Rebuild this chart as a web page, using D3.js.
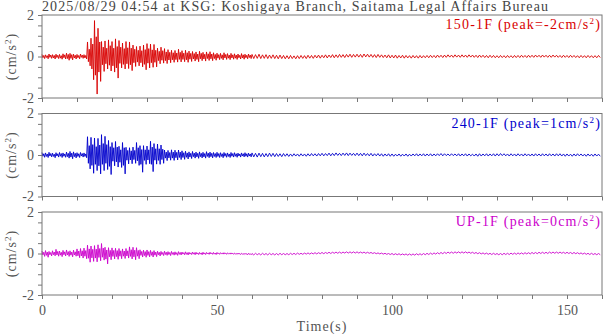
<!DOCTYPE html>
<html>
<head>
<meta charset="utf-8">
<script src="https://cdn.jsdelivr.net/npm/d3@7"></script>
<style>
  body { margin: 0; background: #fff; }
  svg { display: block; }
</style>
</head>
<body>
<svg id="chart" width="605" height="334"></svg>
<script>
// acceleration traces, per 1 s bin: max and min (x100, cm/s^2)
const title = '2025/08/29 04:54 at KSG: Koshigaya Branch, Saitama Legal Affairs Bureau';
const channels = ['150-1F', '240-1F', 'UP-1F'];
const peaks = ['-2', '1', '0'];
const colors = ['#d80000', '#0000cc', '#cc00cc'];
const dt = 1;

const redHi = [
  10, 8, 12, 9, 11, 10, 13, 16, 15, 11,
  10, 12, 9, 70, 88, 173, 136, 72, 75, 80,
  72, 85, 77, 65, 72, 70, 55, 48, 50, 55,
  62, 60, 58, 40, 45, 38, 33, 30, 29, 35,
  28, 30, 26, 24, 22, 25, 20, 22, 23, 18,
  16, 15, 18, 14, 15, 13, 12, 14, 11, 12,
  10, 9, 11, 8, 9, 7, 8, 6, 7, 5,
  4, 5, 3, 4, 5, 4, 6, 5, 6, 7,
  6, 8, 7, 9, 8, 10, 9, 10, 11, 10,
  11, 10, 12, 11, 10, 9, 10, 8, 7, 8,
  6, 7, 5, 6, 5, 4, 5, 4, 5, 4,
  5, 6, 5, 7, 6, 7, 8, 7, 8, 7,
  8, 7, 8, 7, 6, 7, 6, 5, 6, 5,
  4, 5, 4, 5, 4, 5, 5, 6, 5, 6,
  6, 7, 6, 7, 6, 6, 7, 6, 5, 6,
  5, 6, 5, 4, 5, 4, 5, 4, 4, 5
];
const redLo = [
  -10, -11, -9, -12, -10, -13, -12, -18, -16, -12,
  -11, -9, -12, -45, -112, -181, -120, -72, -60, -70,
  -75, -104, -55, -60, -58, -68, -48, -45, -50, -64,
  -55, -52, -50, -35, -32, -34, -30, -28, -27, -26,
  -25, -28, -24, -22, -25, -20, -22, -19, -20, -18,
  -15, -16, -14, -15, -13, -14, -12, -13, -11, -10,
  -10, -9, -10, -9, -10, -9, -10, -11, -10, -11,
  -11, -10, -11, -10, -9, -10, -8, -9, -7, -8,
  -6, -7, -5, -6, -5, -4, -5, -3, -4, -3,
  -3, -4, -2, -3, -4, -5, -4, -5, -6, -7,
  -7, -8, -7, -8, -7, -8, -7, -8, -7, -6,
  -6, -5, -6, -4, -5, -4, -3, -4, -3, -4,
  -3, -4, -3, -4, -5, -4, -5, -6, -5, -6,
  -6, -5, -6, -5, -6, -5, -5, -4, -5, -4,
  -4, -3, -4, -3, -4, -4, -3, -4, -5, -4,
  -5, -4, -5, -6, -5, -6, -5, -6, -6, -5
];
// secondary peaks inside each bin, first 60 s only
const redHi2 = [
  5, 4, 7, 5, 6, 4, 8, 10, 9, 6,
  5, 7, 5, 35, 60, 95, 70, 45, 40, 52,
  40, 48, 45, 38, 42, 40, 35, 30, 28, 33,
  38, 32, 30, 25, 28, 22, 20, 18, 17, 20,
  16, 18, 15, 14, 12, 15, 11, 13, 12, 10,
  9, 8, 10, 7, 8, 7, 6, 8, 6, 7
];
const redLo2 = [
  -6, -5, -4, -7, -5, -8, -6, -10, -9, -7,
  -6, -4, -7, -25, -60, -90, -75, -40, -35, -42,
  -45, -55, -33, -38, -35, -40, -30, -27, -30, -38,
  -32, -30, -28, -20, -18, -20, -17, -16, -15, -14,
  -14, -16, -13, -12, -14, -11, -12, -10, -11, -10,
  -8, -9, -7, -8, -7, -8, -6, -7, -6, -5
];

const blueHi = [
  12, 10, 13, 9, 11, 12, 10, 14, 17, 15,
  11, 12, 10, 88, 85, 82, 80, 98, 90, 70,
  60, 65, 42, 60, 37, 35, 38, 60, 45, 45,
  43, 66, 55, 53, 48, 24, 22, 25, 23, 24,
  20, 18, 15, 17, 14, 15, 13, 16, 14, 12,
  13, 11, 12, 10, 12, 11, 9, 10, 11, 9,
  10, 8, 9, 8, 7, 9, 8, 7, 6, 7,
  6, 5, 6, 5, 6, 5, 6, 7, 6, 7,
  8, 7, 9, 8, 10, 8, 9, 10, 9, 8,
  9, 8, 9, 7, 8, 6, 7, 6, 5, 6,
  5, 4, 5, 4, 5, 4, 5, 6, 5, 6,
  5, 6, 5, 6, 7, 6, 5, 6, 5, 6,
  5, 6, 5, 4, 5, 6, 5, 6, 5, 6,
  6, 7, 6, 5, 6, 5, 6, 5, 6, 5,
  5, 6, 5, 6, 5, 6, 5, 6, 6, 5,
  5, 4, 5, 6, 5, 4, 5, 4, 5, 4
];
const blueLo = [
  -11, -12, -9, -13, -10, -12, -11, -15, -18, -14,
  -12, -10, -13, -67, -88, -75, -91, -75, -70, -94,
  -52, -58, -60, -91, -43, -42, -40, -50, -83, -45,
  -42, -80, -44, -45, -40, -27, -25, -26, -24, -22,
  -21, -19, -17, -15, -16, -14, -15, -13, -14, -12,
  -12, -13, -11, -12, -10, -11, -10, -9, -10, -9,
  -9, -10, -8, -9, -8, -7, -8, -7, -8, -6,
  -7, -6, -5, -6, -5, -6, -5, -4, -5, -4,
  -4, -3, -4, -3, -2, -3, -2, -3, -2, -3,
  -3, -4, -3, -4, -5, -4, -5, -6, -5, -6,
  -6, -5, -6, -5, -6, -5, -4, -5, -4, -5,
  -4, -5, -4, -3, -4, -3, -4, -3, -4, -5,
  -4, -5, -4, -5, -6, -5, -4, -5, -4, -5,
  -4, -3, -4, -5, -4, -5, -4, -5, -4, -5,
  -5, -4, -5, -4, -5, -4, -5, -4, -5, -6,
  -5, -6, -5, -4, -5, -6, -5, -6, -5, -6
];
const blueHi2 = [
  6, 5, 7, 4, 6, 7, 5, 8, 9, 8,
  6, 7, 5, 45, 50, 40, 48, 55, 50, 40,
  35, 38, 25, 35, 22, 20, 22, 35, 26, 25,
  25, 38, 30, 30, 28, 14, 12, 14, 13, 14,
  11, 10, 8, 9, 8, 8, 7, 9, 8, 7,
  7, 6, 7, 5, 7, 6, 5, 6, 6, 5
];
const blueLo2 = [
  -6, -7, -5, -7, -5, -6, -6, -8, -10, -8,
  -7, -5, -7, -40, -50, -45, -52, -45, -40, -55,
  -30, -33, -35, -50, -25, -24, -22, -28, -45, -26,
  -24, -45, -25, -26, -22, -15, -14, -15, -13, -12,
  -12, -11, -10, -8, -9, -8, -9, -7, -8, -7,
  -7, -7, -6, -7, -6, -6, -5, -5, -6, -5
];

const upHi = [
  12, 14, 10, 13, 20, 12, 15, 17, 13, 16,
  22, 24, 26, 40, 36, 38, 42, 48, 30, 28,
  27, 25, 24, 22, 24, 32, 30, 28, 18, 16,
  17, 15, 14, 11, 10, 11, 9, 10, 8, 9,
  7, 8, 6, 7, 6, 5, 6, 5, 6, 5,
  5, 4, 4, 3, 3, 2, 2, 1, 1, 1,
  0, 1, 0, 1, 0, 1, 0, 0, 1, 0,
  0, 1, 1, 2, 1, 2, 3, 3, 4, 4,
  5, 5, 6, 6, 7, 7, 7, 8, 8, 8,
  8, 7, 7, 6, 5, 4, 3, 2, 1, 0,
  0, -1, -1, -2, -2, -2, -2, -1, -1, 0,
  1, 2, 3, 4, 5, 6, 7, 7, 8, 8,
  8, 8, 7, 6, 5, 4, 3, 2, 1, 1,
  0, 0, 1, 1, 2, 2, 3, 3, 4, 4,
  5, 5, 6, 6, 6, 7, 7, 7, 7, 6,
  6, 5, 5, 4, 3, 2, 1, 1, 0, 0
];
const upLo = [
  -14, -18, -12, -11, -13, -15, -12, -14, -16, -13,
  -20, -22, -25, -42, -38, -40, -35, -32, -50, -30,
  -26, -28, -25, -24, -22, -26, -30, -25, -17, -18,
  -16, -17, -15, -12, -10, -9, -10, -8, -9, -7,
  -6, -7, -5, -6, -5, -6, -5, -4, -4, -5,
  -4, -3, -4, -3, -4, -4, -5, -5, -6, -6,
  -7, -6, -7, -6, -7, -6, -7, -7, -6, -6,
  -6, -5, -5, -4, -4, -3, -3, -2, -2, -1,
  -1, 0, 0, 1, 1, 1, 2, 2, 2, 2,
  2, 2, 1, 1, 0, -1, -2, -3, -4, -5,
  -6, -6, -7, -7, -8, -8, -8, -7, -7, -6,
  -5, -4, -3, -2, -1, 0, 1, 1, 2, 2,
  2, 2, 1, 0, -1, -2, -3, -4, -5, -5,
  -6, -6, -5, -5, -4, -4, -3, -3, -2, -2,
  -1, -1, 0, 0, 0, 1, 1, 1, 1, 0,
  0, -1, -1, -2, -3, -4, -5, -5, -6, -6
];
const upHi2 = [
  6, 7, 5, 7, 10, 6, 8, 9, 7, 8,
  12, 13, 14, 22, 20, 21, 24, 26, 17, 15,
  15, 14, 13, 12, 13, 18, 16, 15, 10, 9,
  9, 8, 7, 6, 5, 6, 5, 5, 4, 5,
  4, 4, 3, 4, 3, 3, 3, 3, 3, 2,
  2, 2, 2, 1, 1, 0, 0, -1, -1, -1
];
const upLo2 = [
  -7, -9, -6, -6, -7, -8, -6, -7, -8, -7,
  -11, -12, -13, -23, -21, -22, -19, -18, -27, -16,
  -14, -15, -13, -13, -12, -14, -16, -13, -9, -10,
  -9, -9, -8, -6, -5, -5, -5, -4, -5, -4,
  -3, -4, -3, -3, -3, -3, -3, -2, -2, -3,
  -2, -1, -2, -1, -2, -2, -3, -3, -4, -4
];

const highs = [redHi, blueHi, upHi];
const lows = [redLo, blueLo, upLo];
const highs2 = [redHi2, blueHi2, upHi2];
const lows2 = [redLo2, blueLo2, upLo2];

const svg = d3.select('#chart');
const font = '"Liberation Serif", "DejaVu Serif", serif';
const gray = '#777';
const textGray = '#555';

const left = 42, right = 602;
const panelH = 83, panelStep = 98.5, firstTop = 15;

const xScale = d3.scaleLinear().domain([0, 160]).range([left, right]);

// title
svg.append('text')
    .attr('x', left)
    .attr('y', 11)
    .attr('font-family', font)
    .attr('font-size', 14)
    .attr('fill', '#444')
    .attr('textLength', 506)
    .attr('lengthAdjust', 'spacing')
    .text(title);

channels.forEach((ch, i) => {
    const top = firstTop + i * panelStep;
    const yScale = d3.scaleLinear().domain([-2, 2]).range([top + panelH, top]);

    // zigzag through the extremes of each bin
    const pts = [];
    highs[i].forEach((v, k) => {
        const t = k * dt;
        if (k < highs2[i].length) {
            pts.push([t, v / 100]);
            pts.push([t + dt / 4, lows2[i][k] / 100]);
            pts.push([t + dt / 2, highs2[i][k] / 100]);
            pts.push([t + 3 * dt / 4, lows[i][k] / 100]);
        } else {
            pts.push([t, v / 100]);
            pts.push([t + dt / 2, lows[i][k] / 100]);
        }
    });

    const line = d3.line()
        .x(d => xScale(d[0]))
        .y(d => yScale(d[1]));

    const g = svg.append('g');

    g.append('path')
        .attr('d', line(pts))
        .attr('fill', 'none')
        .attr('stroke', colors[i])
        .attr('stroke-width', 0.9);

    // frame
    g.append('rect')
        .attr('x', left)
        .attr('y', top)
        .attr('width', right - left)
        .attr('height', panelH)
        .attr('fill', 'none')
        .attr('stroke', gray)
        .attr('stroke-width', 1);

    // axes
    const yAxis = d3.axisLeft(yScale)
        .tickValues(d3.range(-2, 2.01, 0.5))
        .tickFormat(d => (d === -2 || d === 0 || d === 2) ? d : '')
        .tickSize(4)
        .tickPadding(4);
    const yAxisG = g.append('g')
        .attr('transform', `translate(${left},0)`)
        .call(yAxis);
    yAxisG.select('.domain').remove();

    const xAxis = d3.axisBottom(xScale)
        .tickValues(d3.range(0, 161, 10))
        .tickFormat(d => (i === 2 && d % 50 === 0) ? d : '')
        .tickSize(4)
        .tickPadding(6);
    const xAxisG = g.append('g')
        .attr('transform', `translate(0,${top + panelH})`)
        .call(xAxis);
    xAxisG.select('.domain').remove();

    [yAxisG, xAxisG].forEach(a => {
        a.selectAll('line').attr('stroke', gray);
        a.selectAll('text')
            .attr('font-family', font)
            .attr('font-size', 14)
            .attr('fill', textGray);
    });

    // y label
    const yl = g.append('text')
        .attr('transform', `translate(16,${top + panelH / 2}) rotate(-90)`)
        .attr('text-anchor', 'middle')
        .attr('font-family', font)
        .attr('font-size', 14)
        .attr('letter-spacing', 1)
        .attr('fill', textGray);
    yl.append('tspan').text('(cm/s');
    yl.append('tspan').attr('dy', -5).attr('font-size', 9).text('2');
    yl.append('tspan').attr('dy', 5).text(')');

    // channel label
    const lab = g.append('text')
        .attr('x', 601)
        .attr('y', top + 14)
        .attr('text-anchor', 'end')
        .attr('font-family', font)
        .attr('font-size', 14)
        .attr('letter-spacing', 1.2)
        .attr('fill', colors[i]);
    lab.append('tspan').text(`${ch} (peak=${peaks[i]}cm/s`);
    lab.append('tspan').attr('dy', -5).attr('font-size', 9).text('2');
    lab.append('tspan').attr('dy', 5).text(')');
});

svg.append('text')
    .attr('x', (left + right) / 2)
    .attr('y', 331)
    .attr('text-anchor', 'middle')
    .attr('font-family', font)
    .attr('font-size', 14)
    .attr('letter-spacing', 1)
    .attr('fill', textGray)
    .text('Time(s)');
</script>
</body>
</html>
